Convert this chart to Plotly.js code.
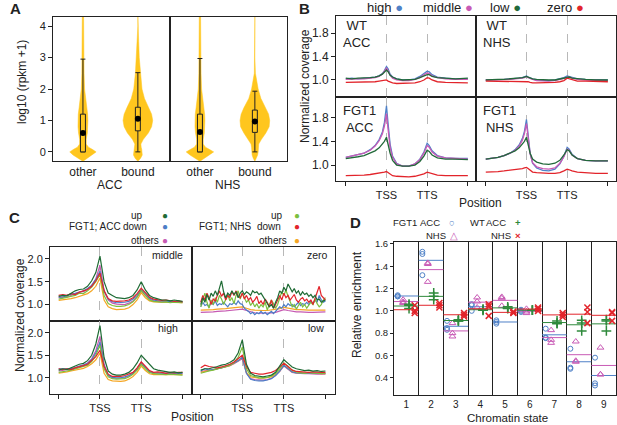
<!DOCTYPE html>
<html>
<head>
<meta charset="utf-8">
<script src="https://cdn.plot.ly/plotly-3.0.1.min.js"></script>
<style>
  html, body { margin: 0; padding: 0; background: #fff; }
  #chart { width: 617px; height: 425px; }
</style>
</head>
<body>
<div id="chart"></div>
<script>
// ---------- panel A: expression of bound / other genes ----------
const A_GROUPS = ['ACC', 'NHS'];
const A_CATS = ['other', 'bound'];
const VIOLIN_LEVELS = [-0.3, -0.2, -0.1, 0, 0.08, 0.15, 0.25, 0.4, 0.6, 0.8, 1.0, 1.2, 1.4, 1.7, 2.0, 2.5, 3.0, 3.5, 4.0, 4.3];
// half widths of each violin at the levels above
const ACC_OTHER_W = [0, 0.08, 0.18, 0.24, 0.17, 0.1, 0.06, 0.06, 0.08, 0.09, 0.09, 0.085, 0.07, 0.045, 0.03, 0.02, 0.015, 0.013, 0.012, 0.012];
const ACC_BOUND_W = [0, 0.05, 0.08, 0.08, 0.07, 0.06, 0.055, 0.1, 0.19, 0.25, 0.27, 0.25, 0.2, 0.12, 0.075, 0.045, 0.025, 0.015, 0, 0];
const NHS_OTHER_W = [0, 0.08, 0.18, 0.25, 0.17, 0.1, 0.06, 0.06, 0.08, 0.09, 0.09, 0.085, 0.07, 0.045, 0.03, 0.02, 0.015, 0.013, 0.012, 0.012];
const NHS_BOUND_W = [0, 0.03, 0.05, 0.06, 0.06, 0.06, 0.07, 0.12, 0.2, 0.26, 0.27, 0.25, 0.2, 0.11, 0.06, 0.01, 0, 0, 0, 0];
// box stats, order: ACC other, ACC bound, NHS other, NHS bound
const BOX_LOW = [0, 0, 0, 0];
const BOX_Q1 = [0, 0.67, 0, 0.62];
const BOX_MED = [0.6, 1.05, 0.63, 0.97];
const BOX_Q3 = [1.2, 1.42, 1.2, 1.33];
const BOX_HIGH = [2.95, 2.52, 2.97, 1.93];

// ---------- panel B: coverage profiles ----------
const POS_LABELS = ['TSS', 'TTS'];
const B_LEVELS = ['high', 'middle', 'low', 'zero'];
const XB = [0, 0.15, 0.3, 0.45, 0.6, 0.72, 0.82, 0.9, 0.95, 1.0, 1.04, 1.09, 1.15, 1.25, 1.4, 1.55, 1.7, 1.82, 1.92, 2.0, 2.05, 2.12, 2.25, 2.45, 2.7, 3.0];
const WT_ACC_HIGH = [1.02, 1.03, 1.02, 1.03, 1.04, 1.05, 1.07, 1.11, 1.16, 1.23, 1.19, 1.1, 1.05, 1.02, 1.0, 1.0, 1.02, 1.06, 1.11, 1.15, 1.14, 1.09, 1.05, 1.03, 1.02, 1.02];
const WT_ACC_MIDDLE = [1.01, 1.02, 1.02, 1.02, 1.03, 1.04, 1.06, 1.1, 1.15, 1.2, 1.16, 1.08, 1.03, 1.0, 0.99, 0.99, 1.01, 1.04, 1.09, 1.12, 1.11, 1.07, 1.04, 1.02, 1.01, 1.01];
const WT_ACC_LOW = [1.03, 1.02, 1.03, 1.03, 1.04, 1.05, 1.07, 1.1, 1.14, 1.17, 1.14, 1.08, 1.05, 1.02, 1.0, 1.0, 1.01, 1.04, 1.07, 1.09, 1.09, 1.06, 1.04, 1.03, 1.02, 1.03];
const WT_ACC_ZERO = [0.96, 0.96, 0.97, 0.96, 0.97, 0.97, 0.98, 0.99, 1.0, 1.0, 0.98, 0.96, 0.95, 0.94, 0.94, 0.94, 0.95, 0.97, 1.0, 1.04, 1.03, 1.0, 0.97, 0.96, 0.96, 0.95];
const WT_NHS_HIGH = [1.0, 1.0, 1.01, 1.01, 1.02, 1.02, 1.03, 1.04, 1.05, 1.07, 1.05, 1.03, 1.02, 1.0, 0.99, 0.99, 1.0, 1.02, 1.04, 1.07, 1.06, 1.04, 1.02, 1.01, 1.0, 1.0];
const WT_NHS_MIDDLE = [1.0, 1.0, 1.0, 1.01, 1.01, 1.02, 1.02, 1.03, 1.04, 1.06, 1.04, 1.02, 1.01, 0.99, 0.98, 0.98, 0.99, 1.01, 1.03, 1.05, 1.05, 1.03, 1.01, 1.0, 1.0, 0.99];
const WT_NHS_LOW = [1.0, 1.01, 1.01, 1.01, 1.02, 1.02, 1.03, 1.04, 1.05, 1.06, 1.05, 1.03, 1.02, 1.01, 1.0, 1.0, 1.0, 1.02, 1.03, 1.05, 1.05, 1.03, 1.02, 1.01, 1.0, 1.0];
const WT_NHS_ZERO = [0.98, 0.98, 0.98, 0.98, 0.98, 0.98, 0.98, 0.98, 0.98, 0.98, 0.97, 0.96, 0.95, 0.95, 0.95, 0.95, 0.96, 0.97, 0.99, 1.03, 1.02, 1.0, 0.98, 0.98, 0.98, 0.97];
const FGT_ACC_HIGH = [1.13, 1.15, 1.17, 1.2, 1.26, 1.33, 1.43, 1.56, 1.72, 2.0, 1.7, 1.35, 1.15, 1.03, 0.98, 0.98, 1.02, 1.1, 1.22, 1.37, 1.33, 1.24, 1.16, 1.12, 1.11, 1.11];
const FGT_ACC_MIDDLE = [1.13, 1.15, 1.17, 1.2, 1.25, 1.32, 1.41, 1.53, 1.66, 1.87, 1.6, 1.3, 1.13, 1.02, 0.98, 0.98, 1.02, 1.09, 1.2, 1.33, 1.3, 1.22, 1.15, 1.12, 1.11, 1.1];
const FGT_ACC_LOW = [1.11, 1.12, 1.14, 1.16, 1.2, 1.24, 1.29, 1.35, 1.4, 1.47, 1.35, 1.2, 1.08, 1.0, 0.98, 0.98, 1.0, 1.06, 1.15, 1.25, 1.23, 1.17, 1.12, 1.1, 1.1, 1.09];
const FGT_ACC_ZERO = [0.82, 0.82, 0.83, 0.83, 0.84, 0.85, 0.86, 0.87, 0.88, 0.89, 0.87, 0.84, 0.82, 0.81, 0.8, 0.8, 0.81, 0.83, 0.85, 0.88, 0.87, 0.85, 0.83, 0.82, 0.82, 0.82];
const FGT_NHS_HIGH = [1.1, 1.11, 1.13, 1.16, 1.2, 1.26, 1.34, 1.45, 1.57, 1.77, 1.5, 1.2, 1.03, 0.95, 0.91, 0.9, 0.93, 1.02, 1.15, 1.3, 1.27, 1.18, 1.11, 1.08, 1.07, 1.07];
const FGT_NHS_MIDDLE = [1.1, 1.11, 1.13, 1.16, 1.2, 1.25, 1.32, 1.42, 1.53, 1.7, 1.46, 1.19, 1.04, 0.97, 0.94, 0.93, 0.95, 1.03, 1.14, 1.27, 1.25, 1.17, 1.11, 1.08, 1.07, 1.07];
const FGT_NHS_LOW = [1.1, 1.11, 1.13, 1.16, 1.2, 1.24, 1.29, 1.35, 1.4, 1.47, 1.36, 1.2, 1.1, 1.05, 1.02, 1.01, 1.03, 1.08, 1.17, 1.26, 1.24, 1.17, 1.11, 1.08, 1.07, 1.07];
const FGT_NHS_ZERO = [0.88, 0.88, 0.89, 0.9, 0.91, 0.92, 0.93, 0.94, 0.95, 0.96, 0.94, 0.91, 0.88, 0.87, 0.86, 0.86, 0.86, 0.87, 0.9, 0.93, 0.92, 0.9, 0.88, 0.87, 0.86, 0.86];

// ---------- panel C: up / down / others genes ----------
const XC = [0, 0.1, 0.2, 0.3, 0.4, 0.5, 0.6, 0.7, 0.8, 0.9, 1.0, 1.1, 1.2, 1.3, 1.4, 1.5, 1.6, 1.7, 1.8, 1.9, 2.0, 2.1, 2.2, 2.3, 2.4, 2.5, 2.6, 2.7, 2.8, 2.9, 3.0];
const XZ = [0, 0.05, 0.1, 0.15, 0.2, 0.25, 0.3, 0.35, 0.4, 0.45, 0.5, 0.55, 0.6, 0.65, 0.7, 0.75, 0.8, 0.85, 0.9, 0.95,
            1.0, 1.05, 1.1, 1.15, 1.2, 1.25, 1.3, 1.35, 1.4, 1.45, 1.5, 1.55, 1.6, 1.65, 1.7, 1.75, 1.8, 1.85, 1.9, 1.95,
            2.0, 2.05, 2.1, 2.15, 2.2, 2.25, 2.3, 2.35, 2.4, 2.45, 2.5, 2.55, 2.6, 2.65, 2.7, 2.75, 2.8, 2.85, 2.9, 2.95, 3.0];
const C_SERIES = ['FGT1; ACC up', 'FGT1; ACC down', 'FGT1; ACC others', 'FGT1; NHS up', 'FGT1; NHS down', 'FGT1; NHS others'];
// middle
const MID_ACC_UP = [1.18, 1.2, 1.19, 1.25, 1.3, 1.33, 1.34, 1.4, 1.52, 1.7, 2.06, 1.5, 1.25, 1.2, 1.15, 1.14, 1.13, 1.15, 1.2, 1.32, 1.5, 1.32, 1.2, 1.15, 1.12, 1.1, 1.1, 1.08, 1.1, 1.08, 1.07];
const MID_ACC_DOWN = [1.17, 1.16, 1.2, 1.22, 1.25, 1.27, 1.3, 1.35, 1.42, 1.55, 1.73, 1.3, 1.12, 1.06, 1.04, 1.04, 1.05, 1.07, 1.12, 1.2, 1.33, 1.24, 1.14, 1.1, 1.08, 1.08, 1.07, 1.07, 1.06, 1.07, 1.06];
const MID_ACC_OTH = [1.15, 1.17, 1.16, 1.2, 1.24, 1.28, 1.28, 1.33, 1.42, 1.56, 1.86, 1.3, 1.1, 1.03, 1.01, 1.0, 1.0, 1.03, 1.08, 1.17, 1.3, 1.2, 1.12, 1.08, 1.07, 1.06, 1.07, 1.06, 1.05, 1.06, 1.05];
const MID_NHS_UP = [1.12, 1.14, 1.15, 1.18, 1.2, 1.25, 1.24, 1.3, 1.38, 1.5, 1.66, 1.2, 1.02, 0.98, 0.96, 0.96, 0.97, 1.0, 1.06, 1.16, 1.31, 1.2, 1.1, 1.07, 1.06, 1.05, 1.06, 1.04, 1.05, 1.04, 1.04];
const MID_NHS_DOWN = [1.2, 1.22, 1.2, 1.24, 1.22, 1.27, 1.3, 1.33, 1.4, 1.52, 1.69, 1.3, 1.13, 1.08, 1.07, 1.07, 1.08, 1.1, 1.15, 1.24, 1.36, 1.26, 1.16, 1.12, 1.1, 1.09, 1.1, 1.08, 1.07, 1.08, 1.06];
const MID_NHS_OTH = [1.09, 1.1, 1.11, 1.13, 1.15, 1.18, 1.2, 1.24, 1.3, 1.4, 1.58, 1.1, 0.95, 0.91, 0.89, 0.89, 0.9, 0.93, 1.0, 1.1, 1.26, 1.15, 1.08, 1.06, 1.05, 1.05, 1.05, 1.05, 1.04, 1.04, 1.04];
// high
const HIGH_ACC_UP = [1.17, 1.2, 1.18, 1.22, 1.25, 1.3, 1.32, 1.38, 1.5, 1.75, 2.16, 1.45, 1.15, 1.08, 1.06, 1.06, 1.08, 1.12, 1.2, 1.33, 1.5, 1.4, 1.28, 1.2, 1.17, 1.15, 1.13, 1.12, 1.13, 1.11, 1.12];
const HIGH_ACC_DOWN = [1.2, 1.2, 1.2, 1.2, 1.22, 1.26, 1.28, 1.32, 1.4, 1.55, 1.79, 1.27, 1.06, 1.01, 1.0, 1.0, 1.02, 1.05, 1.1, 1.2, 1.33, 1.24, 1.14, 1.11, 1.1, 1.1, 1.1, 1.11, 1.1, 1.1, 1.1];
const HIGH_ACC_OTH = [1.15, 1.16, 1.18, 1.2, 1.22, 1.25, 1.28, 1.33, 1.42, 1.6, 1.92, 1.3, 1.05, 1.0, 0.99, 0.99, 1.0, 1.04, 1.1, 1.2, 1.35, 1.24, 1.14, 1.11, 1.1, 1.1, 1.1, 1.1, 1.09, 1.1, 1.09];
const HIGH_NHS_UP = [1.12, 1.13, 1.15, 1.17, 1.2, 1.22, 1.25, 1.28, 1.36, 1.5, 1.72, 1.2, 1.02, 0.98, 0.97, 0.97, 0.98, 1.02, 1.08, 1.17, 1.3, 1.2, 1.12, 1.09, 1.08, 1.08, 1.07, 1.08, 1.07, 1.07, 1.06];
const HIGH_NHS_DOWN = [1.2, 1.18, 1.2, 1.18, 1.22, 1.24, 1.27, 1.3, 1.38, 1.47, 1.61, 1.25, 1.08, 1.03, 1.03, 1.03, 1.05, 1.08, 1.12, 1.22, 1.35, 1.26, 1.16, 1.12, 1.13, 1.12, 1.1, 1.12, 1.11, 1.12, 1.12];
const HIGH_NHS_OTH = [1.1, 1.11, 1.13, 1.15, 1.17, 1.19, 1.21, 1.25, 1.31, 1.4, 1.55, 1.1, 0.96, 0.93, 0.92, 0.92, 0.93, 0.97, 1.03, 1.12, 1.26, 1.16, 1.09, 1.07, 1.07, 1.07, 1.07, 1.07, 1.07, 1.07, 1.07];
// low
const LOW_ACC_UP = [1.17, 1.2, 1.2, 1.22, 1.25, 1.28, 1.3, 1.34, 1.4, 1.55, 1.84, 1.3, 1.1, 1.05, 1.03, 1.02, 1.04, 1.06, 1.12, 1.25, 1.4, 1.32, 1.24, 1.2, 1.18, 1.16, 1.17, 1.15, 1.16, 1.14, 1.15];
const LOW_ACC_DOWN = [1.15, 1.2, 1.17, 1.18, 1.2, 1.22, 1.25, 1.28, 1.33, 1.38, 1.46, 1.1, 0.97, 0.94, 0.93, 0.93, 0.95, 0.98, 1.05, 1.15, 1.28, 1.2, 1.13, 1.11, 1.1, 1.1, 1.1, 1.1, 1.09, 1.1, 1.1];
const LOW_ACC_OTH = [1.14, 1.16, 1.17, 1.18, 1.2, 1.22, 1.24, 1.27, 1.31, 1.36, 1.42, 1.1, 0.98, 0.96, 0.95, 0.95, 0.96, 0.99, 1.05, 1.14, 1.26, 1.18, 1.12, 1.1, 1.09, 1.09, 1.09, 1.08, 1.08, 1.08, 1.08];
const LOW_NHS_UP = [1.1, 1.13, 1.15, 1.17, 1.2, 1.22, 1.25, 1.28, 1.34, 1.45, 1.68, 1.2, 1.05, 1.02, 1.0, 1.0, 1.01, 1.04, 1.1, 1.2, 1.33, 1.25, 1.17, 1.13, 1.12, 1.1, 1.12, 1.1, 1.1, 1.09, 1.1];
const LOW_NHS_DOWN = [1.22, 1.28, 1.25, 1.23, 1.22, 1.24, 1.27, 1.3, 1.35, 1.42, 1.5, 1.25, 1.12, 1.1, 1.08, 1.08, 1.1, 1.12, 1.16, 1.24, 1.32, 1.25, 1.17, 1.14, 1.13, 1.12, 1.12, 1.13, 1.12, 1.12, 1.12];
const LOW_NHS_OTH = [1.12, 1.14, 1.15, 1.17, 1.19, 1.21, 1.24, 1.27, 1.32, 1.38, 1.45, 1.12, 1.02, 1.0, 0.99, 0.99, 1.0, 1.02, 1.07, 1.15, 1.28, 1.2, 1.13, 1.11, 1.1, 1.1, 1.1, 1.1, 1.09, 1.09, 1.09];
// zero (noisy series on the finer grid XZ)
const ZERO_ACC_UP = [1.0, 1.15, 1.05, 1.22, 1.1, 1.25, 1.18, 1.3, 1.2, 1.35,
                     1.52, 1.28, 1.15, 1.25, 1.2, 1.3, 1.22, 1.28, 1.15, 1.25,
                     1.3, 1.22, 1.28, 1.25, 1.2, 1.3, 1.26, 1.28, 1.22, 1.25,
                     1.18, 1.1, 1.02, 0.95, 1.0, 0.92, 1.05, 1.15, 1.3, 1.25,
                     1.38, 1.3, 1.45, 1.35, 1.28, 1.35, 1.25, 1.3, 1.2, 1.28,
                     1.22, 1.25, 1.18, 1.22, 1.15, 1.2, 1.1, 1.12, 1.05, 1.08, 1.1];
const ZERO_ACC_DOWN = [0.95, 1.05, 0.98, 1.0, 0.95, 1.05, 1.0, 1.08, 0.98, 1.02,
                       1.0, 1.05, 1.0, 0.95, 1.02, 1.0, 1.05, 1.0, 1.08, 1.02,
                       1.0, 0.92, 0.88, 0.85, 0.8, 0.83, 0.78, 0.82, 0.8, 0.85,
                       0.8, 0.83, 0.78, 0.82, 0.85, 0.8, 0.85, 0.9, 0.95, 0.92,
                       1.0, 0.95, 1.02, 0.98, 1.0, 0.95, 1.0, 1.05, 0.98, 1.02,
                       1.0, 1.05, 1.0, 1.08, 1.02, 1.1, 1.05, 1.2, 1.1, 1.05, 1.08];
const ZERO_ACC_OTH = [0.83, 0.83, 0.84, 0.84, 0.85, 0.85, 0.86, 0.87, 0.88, 0.89, 0.9, 0.87, 0.84, 0.82, 0.81, 0.81, 0.81, 0.82, 0.83, 0.86, 0.89, 0.87, 0.85, 0.84, 0.84, 0.83, 0.83, 0.83, 0.83, 0.83, 0.84];
const ZERO_NHS_UP = [0.95, 1.1, 1.25, 1.05, 0.92, 1.1, 1.0, 1.15, 1.05, 1.2,
                     1.12, 1.0, 1.1, 1.22, 1.08, 1.15, 1.02, 1.2, 1.3, 1.12,
                     1.25, 1.15, 1.05, 1.1, 0.98, 1.05, 0.95, 1.02, 0.92, 1.0,
                     0.95, 1.05, 0.88, 1.0, 1.1, 1.02, 0.92, 1.0, 1.15, 1.28,
                     1.2, 1.32, 1.18, 1.05, 0.95, 1.0, 0.9, 0.98, 1.05, 0.95,
                     1.0, 0.92, 0.98, 1.05, 1.0, 1.12, 1.02, 0.95, 1.0, 1.1, 1.15];
const ZERO_NHS_DOWN = [1.05, 1.2, 1.1, 1.25, 1.15, 1.0, 1.12, 1.08, 1.2, 1.3,
                       1.18, 1.25, 1.1, 1.2, 1.15, 1.28, 1.2, 1.3, 1.18, 1.15,
                       1.25, 1.12, 1.2, 1.1, 1.15, 1.05, 1.1, 1.18, 1.02, 1.08,
                       1.0, 1.12, 1.05, 0.95, 1.1, 0.92, 1.0, 1.12, 1.2, 1.1,
                       1.25, 1.15, 1.2, 1.1, 1.15, 1.22, 1.1, 1.05, 1.12, 1.15,
                       1.08, 1.12, 1.05, 1.1, 1.0, 1.15, 1.25, 1.4, 1.2, 1.15, 1.1];
const ZERO_NHS_OTH = [0.88, 0.88, 0.89, 0.89, 0.9, 0.9, 0.91, 0.92, 0.93, 0.94, 0.95, 0.92, 0.89, 0.88, 0.87, 0.87, 0.87, 0.88, 0.89, 0.91, 0.94, 0.92, 0.9, 0.89, 0.89, 0.88, 0.88, 0.88, 0.88, 0.88, 0.88];

// ---------- panel D: relative enrichment per chromatin state ----------
const STATES = [1, 2, 3, 4, 5, 6, 7, 8, 9];
const FGT1_ACC = [[1.14, 1.13, 1.13], [1.53, 1.51, 1.32], [0.91, 0.845, 0.83], [1.06, 1.05, 1.0], [0.915, 0.9, 0.885], [1.01, 1.0, 0.99], [0.84, 0.76, 0.755], [0.66, 0.49, 0.48], [0.58, 0.35, 0.33]];
const FGT1_NHS = [[1.1, 1.08, 1.07], [1.43, 1.42, 1.26], [0.89, 0.8, 0.77], [1.12, 1.084, 1.03], [1.125, 1.113, 1.045], [1.018, 0.994, 0.98], [0.827, 0.74, 0.713], [0.725, 0.552, 0.543], [0.67, 0.43, 0.43]];
const WT_ACC = [[1.06, 1.05, 1.02], [1.16, 1.13, 1.1], [0.92, 0.91, 0.91], [1.015, 1.01, 1.005], [1.036, 1.024, 1.02], [1.006, 1.006, 1.006], [0.91, 0.89, 0.885], [0.915, 0.89, 0.82], [0.92, 0.91, 0.82]];
const WT_NHS = [[1.05, 1.0, 0.98], [1.07, 1.05, 1.03], [0.98, 0.965, 0.95], [1.06, 1.04, 0.955], [0.994, 0.985, 0.98], [1.03, 1.018, 1.0], [0.98, 0.965, 0.946], [1.03, 0.99, 0.89], [0.99, 0.98, 0.91]];

// ---------- styling ----------
const W = 617, H = 425;
const FONT = 'Liberation Sans, Arial, Helvetica, sans-serif';
const INK = '#222';
const GOLD = '#FFC61E';
const B_COLORS = ['#4F81C7', '#C85AB5', '#22693A', '#E2242B'];
const C_COLORS = ['#1F6B35', '#4C7DC6', '#C65AB2', '#7CBF3F', '#E2242B', '#F5A623'];
const px = x => x / W;
const py = y => 1 - y / H;

function frameAxis(extra) {
    return Object.assign({
        showline: true, mirror: true, linecolor: INK, linewidth: 1,
        zeroline: false, showgrid: false,
        ticks: 'outside', ticklen: 4, tickwidth: 1, tickcolor: INK,
        tickfont: { family: FONT, size: 11, color: INK },
        fixedrange: true
    }, extra);
}

function posAxis(domain, anchor, range, labels) {
    return frameAxis({
        domain, anchor, range,
        tickvals: [1, 2], ticktext: POS_LABELS,
        showgrid: true, gridcolor: '#b8b8b8', griddash: 'dash', gridwidth: 1,
        ticks: labels ? 'outside' : '', showticklabels: labels,
        minor: labels ? { tickmode: 'array', tickvals: [0, 3], ticks: 'outside', ticklen: 4, tickcolor: INK } : { ticks: '' }
    });
}

function valAxis(domain, anchor, range, tickvals, labels, size) {
    return frameAxis({
        domain, anchor, range, tickvals, tickformat: '.1f',
        ticks: labels ? 'outside' : '', showticklabels: labels,
        tickfont: { family: FONT, size: size || 11, color: INK }
    });
}

const traces = [];

// ---- A: violins, then box + whiskers + median dot on top
const violinW = [[ACC_OTHER_W, ACC_BOUND_W], [NHS_OTHER_W, NHS_BOUND_W]];
const BOX_HW = 0.045;
A_GROUPS.forEach((g, gi) => {
    const xa = gi === 0 ? 'x' : 'x2';
    const ya = gi === 0 ? 'y' : 'y2';
    A_CATS.forEach((c, ci) => {
        const w = violinW[gi][ci];
        const xs = [], ys = [];
        VIOLIN_LEVELS.forEach((lv, i) => { xs.push(ci + w[i]); ys.push(lv); });
        for (let i = VIOLIN_LEVELS.length - 1; i >= 0; i--) { xs.push(ci - w[i]); ys.push(VIOLIN_LEVELS[i]); }
        traces.push({
            type: 'scatter', mode: 'lines', x: xs, y: ys, xaxis: xa, yaxis: ya,
            fill: 'toself', fillcolor: GOLD, line: { width: 0.5, color: GOLD }
        });
    });
    A_CATS.forEach((c, ci) => {
        const k = gi * 2 + ci;
        const lo = BOX_LOW[k], q1 = BOX_Q1[k], q3 = BOX_Q3[k], hi = BOX_HIGH[k];
        traces.push({
            type: 'scatter', mode: 'lines', xaxis: xa, yaxis: ya,
            x: [ci, ci, null, ci, ci, null, ci - BOX_HW, ci + BOX_HW, null, ci - BOX_HW, ci + BOX_HW],
            y: [lo, q1, null, q3, hi, null, lo, lo, null, hi, hi],
            line: { color: INK, width: 1 }
        });
        traces.push({
            type: 'scatter', mode: 'lines', xaxis: xa, yaxis: ya,
            x: [ci - BOX_HW, ci + BOX_HW, ci + BOX_HW, ci - BOX_HW, ci - BOX_HW],
            y: [q1, q1, q3, q3, q1],
            fill: 'toself', fillcolor: GOLD, line: { color: INK, width: 1 }
        });
    });
    traces.push({
        type: 'scatter', mode: 'markers', x: [0, 1], y: BOX_MED.slice(gi * 2, gi * 2 + 2),
        xaxis: xa, yaxis: ya, marker: { color: '#000', size: 6 }
    });
});

// ---- B: four panels of profiles
const bPanels = [
    { xa: 'x3', ya: 'y3', lines: [WT_ACC_HIGH, WT_ACC_MIDDLE, WT_ACC_LOW, WT_ACC_ZERO] },
    { xa: 'x4', ya: 'y4', lines: [WT_NHS_HIGH, WT_NHS_MIDDLE, WT_NHS_LOW, WT_NHS_ZERO] },
    { xa: 'x5', ya: 'y5', lines: [FGT_ACC_HIGH, FGT_ACC_MIDDLE, FGT_ACC_LOW, FGT_ACC_ZERO] },
    { xa: 'x6', ya: 'y6', lines: [FGT_NHS_HIGH, FGT_NHS_MIDDLE, FGT_NHS_LOW, FGT_NHS_ZERO] }
];
bPanels.forEach(p => {
    p.lines.forEach((ys, i) => {
        traces.push({
            type: 'scatter', mode: 'lines', x: XB, y: ys, xaxis: p.xa, yaxis: p.ya,
            name: B_LEVELS[i], line: { color: B_COLORS[i], width: 1.3 }
        });
    });
});

// ---- C: four panels, six series each
const cPanels = [
    { xa: 'x7', ya: 'y7', xs: [XC, XC, XC, XC, XC, XC], lines: [MID_ACC_UP, MID_ACC_DOWN, MID_ACC_OTH, MID_NHS_UP, MID_NHS_DOWN, MID_NHS_OTH] },
    { xa: 'x8', ya: 'y8', xs: [XZ, XZ, XC, XZ, XZ, XC], lines: [ZERO_ACC_UP, ZERO_ACC_DOWN, ZERO_ACC_OTH, ZERO_NHS_UP, ZERO_NHS_DOWN, ZERO_NHS_OTH] },
    { xa: 'x9', ya: 'y9', xs: [XC, XC, XC, XC, XC, XC], lines: [HIGH_ACC_UP, HIGH_ACC_DOWN, HIGH_ACC_OTH, HIGH_NHS_UP, HIGH_NHS_DOWN, HIGH_NHS_OTH] },
    { xa: 'x10', ya: 'y10', xs: [XC, XC, XC, XC, XC, XC], lines: [LOW_ACC_UP, LOW_ACC_DOWN, LOW_ACC_OTH, LOW_NHS_UP, LOW_NHS_DOWN, LOW_NHS_OTH] }
];
const C_ORDER = [2, 5, 1, 3, 4, 0];
cPanels.forEach(p => {
    C_ORDER.forEach(i => {
        traces.push({
            type: 'scatter', mode: 'lines', x: p.xs[i], y: p.lines[i], xaxis: p.xa, yaxis: p.ya,
            name: C_SERIES[i], line: { color: C_COLORS[i], width: 1.2 }
        });
    });
});

// ---- D: replicate markers and mean lines
const dGroups = [
    { data: FGT1_ACC, off: -0.35, color: '#4F81C7', symbol: 'circle-open', size: 5, lw: 1 },
    { data: FGT1_NHS, off: -0.13, color: '#C85AB5', symbol: 'triangle-up-open', size: 6, lw: 1 },
    { data: WT_ACC, off: 0.11, color: '#2F8A3C', symbol: 'cross-thin-open', size: 7, lw: 1.5 },
    { data: WT_NHS, off: 0.34, color: '#E2242B', symbol: 'x-thin-open', size: 6, lw: 1.5 }
];
dGroups.forEach(g => {
    const lx = [], ly = [], mx = [], my = [];
    STATES.forEach((s, si) => {
        const reps = g.data[si];
        const mean = reps.reduce((a, b) => a + b, 0) / reps.length;
        lx.push(s - 0.5, s + 0.5, null);
        ly.push(mean, mean, null);
        reps.forEach(v => { mx.push(s + g.off); my.push(v); });
    });
    traces.push({
        type: 'scatter', mode: 'lines', x: lx, y: ly, xaxis: 'x11', yaxis: 'y11',
        line: { color: g.color, width: 1 }
    });
    traces.push({
        type: 'scatter', mode: 'markers', x: mx, y: my, xaxis: 'x11', yaxis: 'y11',
        marker: { symbol: g.symbol, size: g.size, color: g.color, line: { color: g.color, width: g.lw } }
    });
});

// ---------- annotations ----------
function ann(text, x, y, opts) {
    const o = Object.assign({ size: 12, color: INK, bold: false, xanchor: 'center', yanchor: 'middle', angle: 0, pad: 1 }, opts || {});
    return {
        text: o.bold ? '<b>' + text + '</b>' : text,
        x: px(x), y: py(y), xref: 'paper', yref: 'paper', showarrow: false,
        xanchor: o.xanchor, yanchor: o.yanchor, textangle: o.angle, borderpad: o.pad,
        font: { family: FONT, size: o.size, color: o.color }
    };
}
const dot = c => '<span style="color:' + c + '">●</span>';
const sm = { size: 10, pad: 0 };
const dsm = { size: 9.5, pad: 0 };

const annotations = [
    ann('A', 15, 9, { size: 15, bold: true }),
    ann('B', 304, 9, { size: 15, bold: true }),
    ann('C', 14, 217, { size: 15, bold: true }),
    ann('D', 355, 223, { size: 15, bold: true }),
    // A
    ann('log10 (rpkm +1)', 22, 82, { angle: -90 }),
    ann(A_GROUPS[0], 110, 185),
    ann(A_GROUPS[1], 227, 185),
    // B
    ann(B_LEVELS[0] + ' ' + dot(B_COLORS[0]), 385, 7, { size: 13 }),
    ann(B_LEVELS[1] + ' ' + dot(B_COLORS[1]), 448, 7, { size: 13 }),
    ann(B_LEVELS[2] + ' ' + dot(B_COLORS[2]), 505, 7, { size: 13 }),
    ann(B_LEVELS[3] + ' ' + dot(B_COLORS[3]), 565, 7, { size: 13 }),
    ann('WT<br>ACC', 341, 16, { size: 13, xanchor: 'left', yanchor: 'top' }),
    ann('WT<br>NHS', 481, 16, { size: 13, xanchor: 'left', yanchor: 'top' }),
    ann('FGT1<br>ACC', 341, 101, { size: 13, xanchor: 'left', yanchor: 'top' }),
    ann('FGT1<br>NHS', 481, 101, { size: 13, xanchor: 'left', yanchor: 'top' }),
    ann('Normalized coverage', 305, 86, { angle: -90 }),
    ann('Position', 480, 203),
    // C legend
    ann('up', 137, 215, sm), ann(dot(C_COLORS[0]), 165, 215, sm),
    ann('FGT1; ACC', 95, 227, sm),
    ann('down', 135, 227, sm), ann(dot(C_COLORS[1]), 165, 227, sm),
    ann('others', 145, 240, sm), ann(dot(C_COLORS[2]), 165, 240, sm),
    ann('up', 277, 215, sm), ann(dot(C_COLORS[3]), 297, 215, sm),
    ann('FGT1; NHS', 225, 227, sm),
    ann('down', 269, 227, sm), ann(dot(C_COLORS[4]), 297, 227, sm),
    ann('others', 273, 240, sm), ann(dot(C_COLORS[5]), 297, 240, sm),
    ann('middle', 168, 255, { size: 10.5 }),
    ann('zero', 318, 255, { size: 10.5 }),
    ann('high', 168, 328, { size: 10.5 }),
    ann('low', 316, 328, { size: 10.5 }),
    ann('Normalized coverage', 20, 315, { angle: -90 }),
    ann('Position', 192, 417),
    // D legend
    ann('FGT1', 405, 223, dsm),
    ann('ACC', 430, 223, dsm),
    ann('<span style="color:#4F81C7">○</span>', 452, 223, dsm),
    ann('NHS', 436, 235, dsm),
    ann('<span style="color:#C85AB5">△</span>', 454, 235, dsm),
    ann('WT', 477, 223, dsm),
    ann('ACC', 496, 223, dsm),
    ann('<span style="color:#2F8A3C"><b>+</b></span>', 518, 223, dsm),
    ann('NHS', 501, 235, dsm),
    ann('<span style="color:#E2242B"><b>×</b></span>', 518, 235, dsm),
    ann('Relative enrichment', 357, 305, { angle: -90 }),
    ann('Chromatin state', 507, 418, { size: 11.5, pad: 0 })
];

const BX = [-0.24, 3.2];
const CX = [-0.21, 3.23];
const layout = {
    width: W, height: H,
    margin: { l: 0, r: 0, t: 0, b: 0 },
    paper_bgcolor: '#fff', plot_bgcolor: '#fff',
    showlegend: false,
    font: { family: FONT, color: INK },
    // A
    xaxis: frameAxis({ domain: [px(53), px(170)], anchor: 'y', range: [-0.545, 1.585], tickvals: [0, 1], ticktext: A_CATS, ticks: '', tickfont: { family: FONT, size: 12, color: INK } }),
    yaxis: frameAxis({ domain: [py(161), py(17)], anchor: 'x', range: [-0.29, 4.29], tickvals: [0, 1, 2, 3, 4] }),
    xaxis2: frameAxis({ domain: [px(170), px(287)], anchor: 'y2', range: [-0.545, 1.585], tickvals: [0, 1], ticktext: A_CATS, ticks: '', tickfont: { family: FONT, size: 12, color: INK } }),
    yaxis2: frameAxis({ domain: [py(161), py(17)], anchor: 'x2', range: [-0.29, 4.29], ticks: '', showticklabels: false }),
    // B
    xaxis3: posAxis([px(336), px(476)], 'y3', BX, false),
    yaxis3: valAxis([py(97), py(16)], 'x3', [0.71, 2.09], [1.0, 1.4, 1.8], true, 12),
    xaxis4: posAxis([px(476), px(616)], 'y4', BX, false),
    yaxis4: valAxis([py(97), py(16)], 'x4', [0.71, 2.09], [1.0, 1.4, 1.8], false),
    xaxis5: posAxis([px(336), px(476)], 'y5', BX, true),
    yaxis5: valAxis([py(181), py(97)], 'x5', [0.73, 2.15], [1.0, 1.4, 1.8], true, 12),
    xaxis6: posAxis([px(476), px(616)], 'y6', BX, true),
    yaxis6: valAxis([py(181), py(97)], 'x6', [0.73, 2.15], [1.0, 1.4, 1.8], false),
    // C
    xaxis7: posAxis([px(50), px(192)], 'y7', CX, false),
    yaxis7: valAxis([py(321), py(247)], 'x7', [0.64, 2.26], [1.0, 1.5, 2.0], true),
    xaxis8: posAxis([px(192), px(335)], 'y8', CX, false),
    yaxis8: valAxis([py(321), py(247)], 'x8', [0.64, 2.26], [1.0, 1.5, 2.0], false),
    xaxis9: posAxis([px(50), px(192)], 'y9', CX, true),
    yaxis9: valAxis([py(394), py(321)], 'x9', [0.64, 2.26], [1.0, 1.5, 2.0], true),
    xaxis10: posAxis([px(192), px(335)], 'y10', CX, true),
    yaxis10: valAxis([py(394), py(321)], 'x10', [0.64, 2.26], [1.0, 1.5, 2.0], false),
    // D
    xaxis11: frameAxis({
        domain: [px(394), px(616)], anchor: 'y11', range: [0.5, 9.5], tickvals: STATES,
        ticks: '', tickfont: { family: FONT, size: 10, color: INK },
        minor: { tick0: 0.5, dtick: 1, showgrid: true, gridcolor: INK, gridwidth: 1, ticks: '' }
    }),
    yaxis11: valAxis([py(395), py(242.3)], 'x11', [0.245, 1.615], [0.4, 0.6, 0.8, 1.0, 1.2, 1.4, 1.6], true, 9.5),
    annotations
};
layout.yaxis11.ticklen = 3;

Plotly.newPlot('chart', traces, layout, { staticPlot: true, displayModeBar: false });
</script>
</body>
</html>
